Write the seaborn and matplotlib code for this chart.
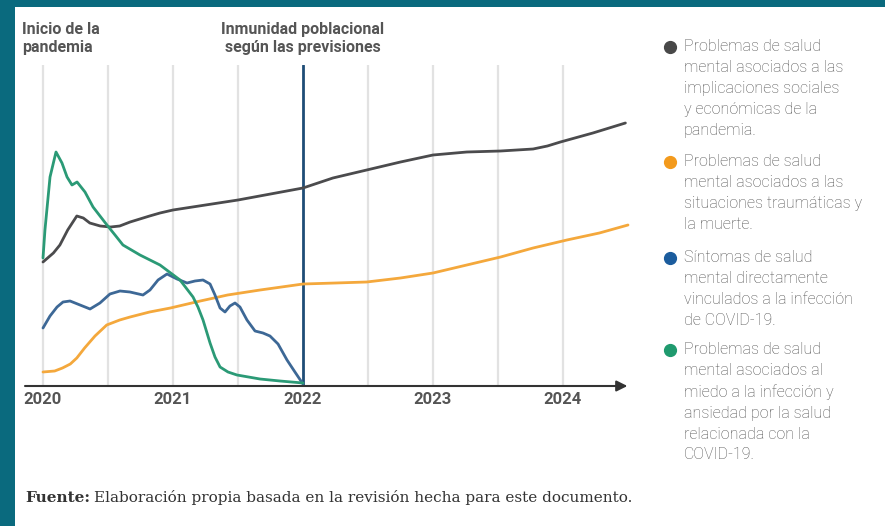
import matplotlib
matplotlib.use("Agg")
import matplotlib.pyplot as plt
from matplotlib.patches import Rectangle
from matplotlib.lines import Line2D
import seaborn as sns
import pandas as pd

sns.set_style("white")

# ---------------- data (index values) ----------------
grey_x = [2020.00, 2020.08, 2020.13, 2020.19, 2020.26, 2020.31, 2020.36, 2020.44, 2020.52,
          2020.59, 2020.67, 2020.82, 2020.90, 2021.00, 2021.25, 2021.50, 2021.75,
          2022.00, 2022.23, 2022.49, 2022.75, 2023.00, 2023.26, 2023.52, 2023.77, 2023.88,
          2023.98, 2024.23, 2024.48]
grey_y = [124, 133, 141, 156, 170, 168, 163, 160, 159,
          160, 164, 170, 173, 176, 181, 186, 192,
          198, 208, 216, 224, 231, 234, 235, 237, 240,
          244, 253, 263]

orange_x = [2020.00, 2020.09, 2020.15, 2020.21, 2020.26, 2020.32, 2020.40, 2020.49, 2020.59,
            2020.67, 2020.82, 2020.98, 2021.21, 2021.42, 2021.67, 2022.00, 2022.25, 2022.49,
            2022.75, 2023.00, 2023.26, 2023.52, 2023.77, 2024.03, 2024.28, 2024.50]
orange_y = [14, 15, 18, 22, 28, 38, 50, 61, 66,
            69, 74, 78, 85, 91, 96, 102, 103, 104,
            108, 113, 121, 129, 138, 146, 153, 161]

blue_x = [2020.000, 2020.054, 2020.108, 2020.154, 2020.208, 2020.285, 2020.362, 2020.438,
          2020.515, 2020.592, 2020.669, 2020.769, 2020.823, 2020.885, 2020.954, 2021.031,
          2021.108, 2021.169, 2021.231, 2021.285, 2021.323, 2021.362, 2021.400, 2021.438,
          2021.477, 2021.515, 2021.569, 2021.631, 2021.692, 2021.746, 2021.808, 2021.877,
          2021.938, 2022.000]
blue_y = [58, 70, 79, 84, 85, 81, 77, 83,
          92, 95, 94, 91, 96, 106, 112, 107,
          103, 105, 106, 102, 91, 78, 74, 80,
          83, 79, 66, 55, 53, 50, 42, 26,
          14, 2]

green_x = [2020.000, 2020.015, 2020.054, 2020.100, 2020.146, 2020.185, 2020.223, 2020.262,
           2020.323, 2020.385, 2020.492, 2020.554, 2020.615, 2020.746, 2020.900, 2021.054,
           2021.154, 2021.192, 2021.231, 2021.285, 2021.323, 2021.362, 2021.423, 2021.492,
           2021.669, 2021.823, 2022.000]
green_y = [128, 156, 209, 234, 223, 209, 201, 204,
           194, 179, 161, 151, 141, 131, 121, 106,
           89, 79, 66, 43, 29, 19, 14, 11,
           7, 5, 3]

years = [2020, 2021, 2022, 2023, 2024]
year_labels = ["2020", "2021", "2022", "2023", "2024"]
grid_years = [2020, 2020.5, 2021, 2021.5, 2022.5, 2023, 2023.5, 2024]

legend_labels = [
    "Problemas de salud\nmental asociados a las\nimplicaciones sociales\ny económicas de la\npandemia.",
    "Problemas de salud\nmental asociados a las\nsituaciones traumáticas y\nla muerte.",
    "Síntomas de salud\nmental directamente\nvinculados a la infección\nde COVID-19.",
    "Problemas de salud\nmental asociados al\nmiedo a la infección y\nansiedad por la salud\nrelacionada con la\nCOVID-19.",
]
line_colors = ["#4b4b4d", "#f4a83c", "#3d6896", "#2b9a76"]
marker_colors = ["#484848", "#f39a1c", "#1b5c9d", "#1f9a6e"]

# ---------------- figure ----------------
W, H = 885, 526
fig = plt.figure(figsize=(W / 100, H / 100), dpi=100)
fig.patch.set_facecolor("#0a6a7e")
fig.add_artist(Rectangle((15 / W, 0), 1 - 15 / W, (H - 7) / H, transform=fig.transFigure,
                         facecolor="white", edgecolor="none", zorder=0))

ax = fig.add_axes([25 / W, (H - 386) / H, 605 / W, 321 / H])
ax.set_facecolor("none")
x0 = 2020 - 18 / 130
x1 = 2020 + 587 / 130
ax.set_xlim(x0, x1)
ax.set_ylim(0, 321)

ax.vlines(grid_years, 0, 321, color="#e2e2e2", lw=1.6, zorder=0)
ax.axvline(2022, color="#1f4d77", lw=2, zorder=3)

series = [(grey_x, grey_y), (orange_x, orange_y), (blue_x, blue_y), (green_x, green_y)]
for (xs, ys), c in zip(series, line_colors):
    df = pd.DataFrame({"x": xs, "y": ys})
    sns.lineplot(data=df, x="x", y="y", ax=ax, color=c, lw=2, zorder=4,
                 solid_joinstyle="round", solid_capstyle="round")

for s in ax.spines.values():
    s.set_visible(False)
ax.set_xlabel("")
ax.set_ylabel("")
ax.set_yticks([])

cond = ["Liberation Sans Narrow", "Roboto", "DejaVu Sans"]
ax.set_xticks(years)
ax.set_xticklabels(year_labels, family=cond, fontweight="bold", fontsize=12, color="#555555")
ax.tick_params(axis="x", length=0, pad=4)

ax.annotate("", xy=(x1 - 0.02, 0), xytext=(x0, 0), xycoords="data",
            arrowprops=dict(arrowstyle="-|>", color="#333333", lw=1.5,
                            mutation_scale=16, shrinkA=0, shrinkB=0),
            annotation_clip=False, zorder=5)

# top annotations
fig.text(22 / W, 1 - 22 / H, "Inicio de la\npandemia", ha="left", va="top",
         family=cond, fontweight="bold", fontsize=11.5, color="#555555", linespacing=1.25)
fig.text(303 / W, 1 - 22 / H, "Inmunidad poblacional\nsegún las previsiones", ha="center",
         va="top", family=cond, fontweight="bold", fontsize=11.5, color="#555555",
         linespacing=1.25)

# legend
leg_font = ["Roboto", "DejaVu Sans"]
first_line = [47, 162, 258, 350]
for lab, mc, yc in zip(legend_labels, marker_colors, first_line):
    fig.add_artist(Line2D([670 / W], [1 - yc / H], marker="o", markersize=8.5, color=mc,
                          transform=fig.transFigure, linestyle="none"))
    fig.text(684 / W, 1 - (yc - 8) / H, lab, ha="left", va="top", family=leg_font,
             fontweight="light", fontsize=11.5, color="#505050", linespacing=1.49)

# footer
serif = ["DejaVu Serif"]
t1 = fig.text(25 / W, 1 - 502 / H, "Fuente:", ha="left", va="baseline",
              family=serif, fontweight="bold", fontsize=11, color="#333333")
ax.annotate("Elaboración propia basada en la revisión hecha para este documento.",
            xy=(1, 0), xycoords=t1, xytext=(3, 0), textcoords="offset points",
            ha="left", va="bottom", family=serif,
            fontsize=11, color="#333333", annotation_clip=False)

fig.savefig("out.png", dpi=100, facecolor=fig.get_facecolor())
